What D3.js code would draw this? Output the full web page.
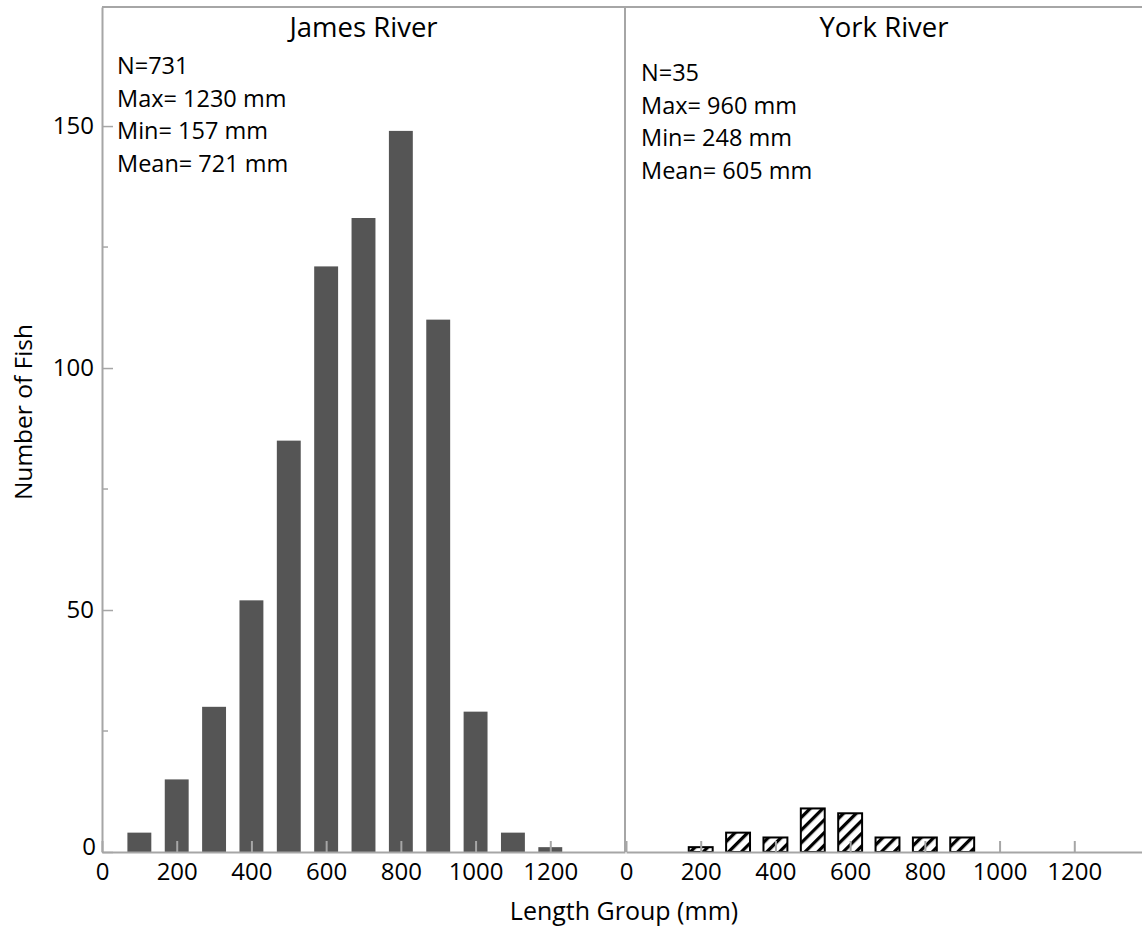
<!DOCTYPE html>
<html>
<head>
<meta charset="utf-8">
<script src="https://cdn.jsdelivr.net/npm/d3@7"></script>
<style>
  body { margin: 0; background: #fff; }
  svg { font-family: "Open Sans", "Noto Sans", sans-serif; }
</style>
</head>
<body>
<svg id="chart" width="1142" height="931"></svg>
<script>
// length group midpoints (mm)
const jamesGroups = [100, 200, 300, 400, 500, 600, 700, 800, 900, 1000, 1100, 1200]
const jamesCounts = [4, 15, 30, 52, 85, 121, 131, 149, 110, 29, 4, 1]
const yorkGroups = [200, 300, 400, 500, 600, 700, 800, 900]
const yorkCounts = [1, 4, 3, 9, 8, 3, 3, 3]

const xTicks = [0, 200, 400, 600, 800, 1000, 1200]
const yTicks = [0, 50, 100, 150]
const yMinorTicks = [25, 75, 125]

const panels = [
    { title: "James River", groups: jamesGroups, counts: jamesCounts,
      stats: ["N=731", "Max= 1230 mm", "Min= 157 mm", "Mean= 721 mm"] },
    { title: "York River", groups: yorkGroups, counts: yorkCounts,
      stats: ["N=35", "Max= 960 mm", "Min= 248 mm", "Mean= 605 mm"] }
]

const svg = d3.select("#chart")
const axisColor = "#a6a6a6"
const plotTop = 7, plotBottom = 852
const panelLeft = [102, 626]
const panelW = 523
const fontFam = "'Open Sans', 'Noto Sans', sans-serif"

const y = d3.scaleLinear().domain([0, 174.6]).range([plotBottom, plotTop])

// hatch pattern for York bars
const defs = svg.append("defs")
const pat = defs.append("pattern")
    .attr("id", "hatch")
    .attr("patternUnits", "userSpaceOnUse")
    .attr("width", 9).attr("height", 9)
    .attr("patternTransform", "rotate(45)")
pat.append("rect").attr("width", 9).attr("height", 9).attr("fill", "#fff")
pat.append("line")
    .attr("x1", 0).attr("y1", 0).attr("x2", 0).attr("y2", 9)
    .attr("stroke", "#000").attr("stroke-width", 6.5)

panels.forEach((p, i) => {
    const x = d3.scaleLinear().domain([0, 1400]).range([panelLeft[i], panelLeft[i] + panelW])
    const barW = (x(100) - x(0)) * 0.64

    // bars
    const g = svg.append("g")
    g.selectAll("rect")
        .data(p.groups.map((d, k) => ({ len: d, n: p.counts[k] })))
        .join("rect")
            .attr("x", d => x(d.len) - barW / 2)
            .attr("y", d => y(d.n))
            .attr("width", barW)
            .attr("height", d => y(0) - y(d.n))
            .attr("fill", i == 0 ? "#555555" : "url(#hatch)")
            .attr("stroke", i == 0 ? "none" : "#000")
            .attr("stroke-width", i == 0 ? 0 : 2)

    // x axis with ticks pointing inward
    const xAxis = svg.append("g")
        .attr("transform", `translate(0,${plotBottom})`)
        .call(d3.axisBottom(x).tickValues(xTicks).tickSizeInner(-11).tickSizeOuter(0).tickFormat(d3.format("d")))
    xAxis.select(".domain").attr("stroke", axisColor).attr("stroke-width", 2)
    xAxis.selectAll(".tick line").attr("stroke", axisColor).attr("stroke-width", 2)
    xAxis.selectAll(".tick text")
        .attr("y", 28).attr("dy", null)
        .attr("font-size", 24).attr("fill", "#000")
        .attr("font-family", fontFam)

    // title and stats
    svg.append("text")
        .attr("x", panelLeft[i] + (i == 0 ? panelW : 1142 - panelLeft[i]) / 2)
        .attr("y", 37)
        .attr("text-anchor", "middle")
        .attr("font-size", 27.5)
        .text(p.title)

    svg.append("g").selectAll("text")
        .data(p.stats)
        .join("text")
            .attr("x", panelLeft[i] + 15)
            .attr("y", (d, k) => (i == 0 ? 74 : 81) + k * 32.5)
            .attr("font-size", 23.5)
            .text(d => d)
})

// frame: top border, separator
const frame = svg.append("g").attr("stroke", axisColor).attr("stroke-width", 2).attr("fill", "none")
frame.append("line").attr("x1", 102).attr("x2", 1150).attr("y1", plotTop).attr("y2", plotTop)
frame.append("line").attr("x1", 625).attr("x2", 625).attr("y1", plotTop).attr("y2", plotBottom)

// y axis, ticks pointing inward
const yAxis = svg.append("g")
    .attr("transform", "translate(102,0)")
    .call(d3.axisLeft(y).tickValues(yTicks).tickSizeInner(0).tickSizeOuter(0).tickPadding(8))
yAxis.select(".domain").attr("stroke", axisColor).attr("stroke-width", 2)
yAxis.selectAll(".tick line").attr("x2", 11).attr("stroke", axisColor).attr("stroke-width", 1.5)
yAxis.selectAll(".tick text")
    .attr("font-size", 24).attr("fill", "#000")
    .attr("font-family", fontFam)
yAxis.selectAll(".tick").filter(d => d == 0).select("text").attr("dy", "0.1em").attr("x", -6)

yAxis.selectAll(".minor")
    .data(yMinorTicks)
    .join("line")
        .attr("class", "minor")
        .attr("x1", 0).attr("x2", 6)
        .attr("y1", d => y(d)).attr("y2", d => y(d))
        .attr("stroke", axisColor).attr("stroke-width", 1.5)

// axis titles
svg.append("text")
    .attr("transform", "translate(32,412) rotate(-90)")
    .attr("text-anchor", "middle")
    .attr("font-size", 24.5)
    .text("Number of Fish")

svg.append("text")
    .attr("x", 624).attr("y", 920)
    .attr("text-anchor", "middle")
    .attr("font-size", 25)
    .text("Length Group (mm)")
</script>
</body>
</html>
